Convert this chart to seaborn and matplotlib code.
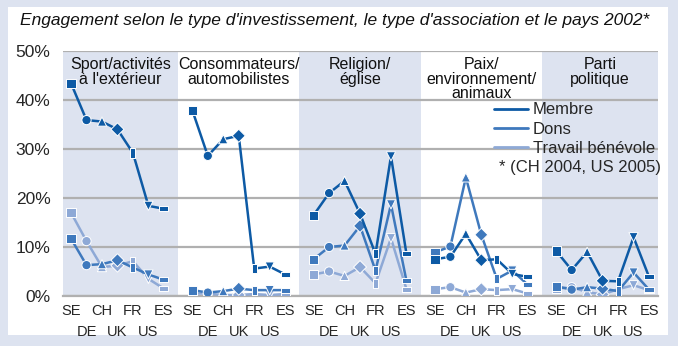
import matplotlib
matplotlib.use("Agg")
import matplotlib.pyplot as plt
import seaborn as sns
import pandas as pd
from matplotlib.lines import Line2D
from matplotlib.patches import Rectangle

countries = ['SE', 'DE', 'CH', 'UK', 'FR', 'US', 'ES']
groups = ["Sport/activités\nà l'extérieur", "Consommateurs/\nautomobilistes",
          "Religion/\néglise", "Paix/\nenvironnement/\nanimaux", "Parti\npolitique"]
series = ['Membre', 'Dons', 'Travail bénévole']

membre = [
    [43.4, 35.9, 35.6, 34.0, 29.2, 18.4, 17.8],
    [37.9, 28.6, 32.0, 32.7, 5.6, 6.0, 4.4],
    [16.5, 21.0, 23.5, 16.8, 8.6, 28.5, 8.6],
    [7.5, 8.0, 12.7, 7.3, 7.5, 4.5, 3.9],
    [9.2, 5.3, 9.0, 3.1, 3.0, 12.0, 3.9],
]
dons = [
    [11.7, 6.3, 6.5, 7.3, 5.8, 4.4, 3.3],
    [1.2, 0.7, 1.0, 1.5, 1.2, 1.2, 1.2],
    [7.5, 10.0, 10.3, 14.3, 5.2, 18.7, 3.1],
    [8.9, 10.1, 24.2, 12.5, 3.5, 5.2, 2.3],
    [2.0, 1.3, 1.8, 1.5, 1.0, 4.8, 1.3],
]
travail = [
    [17.0, 11.2, 5.9, 6.2, 7.1, 3.5, 1.5],
    [0.5, 0.5, 0.2, 0.2, 0.4, 0.2, 0.4],
    [4.4, 5.0, 4.1, 5.9, 2.6, 11.8, 1.4],
    [1.4, 1.8, 0.7, 1.4, 1.2, 1.4, 0.5],
    [1.5, 1.8, 0.8, 0.3, 1.4, 2.2, 1.2],
]
yticks = [0, 10, 20, 30, 40, 50]
legend_note = "* (CH 2004, US 2005)"
title = "Engagement selon le type d'investissement, le type d'association et le pays 2002*"

colors = {'Membre': '#0d5aa5', 'Dons': '#3f79bd', 'Travail bénévole': '#8ea9d6'}
shade = '#dde3f0'
grid_c = '#b0b0b0'

STRIDE = 7.84
rows = []
for s_name, vals in zip(series, [membre, dons, travail]):
    for g, gvals in enumerate(vals):
        for i, (c, v) in enumerate(zip(countries, gvals)):
            rows.append({'series': s_name, 'group': g, 'country': c,
                         'x': g * STRIDE + i, 'value': v})
df = pd.DataFrame(rows)

sns.set_theme(style='white')
plt.rcParams['font.family'] = ['Liberation Sans', 'DejaVu Sans']

fig = plt.figure(figsize=(6.78, 3.46), dpi=100, facecolor=shade)
fig.patches.append(Rectangle((8 / 678, 11 / 346), 660 / 678, 328 / 346,
                             transform=fig.transFigure, facecolor='white',
                             edgecolor='none', zorder=-1))
ax = fig.add_axes([63 / 678, 50 / 346, 595 / 678, 245 / 346])
ax.set_facecolor('white')

xmin, xmax = -0.52, 4 * STRIDE + 6 + 0.58
bounds = [xmin] + [g * STRIDE + 6.92 for g in range(4)] + [xmax]
for g in range(5):
    if g % 2 == 0:
        ax.axvspan(bounds[g], bounds[g + 1], color=shade, zorder=0, lw=0)

vrect = [(-0.55, -1), (0.55, -1), (0.55, 1), (-0.55, 1), (-0.55, -1)]
hrect = [(-1, -0.55), (1, -0.55), (1, 0.55), (-1, 0.55), (-1, -0.55)]
markers = {'SE': 's', 'DE': 'o', 'CH': '^', 'UK': 'D', 'FR': vrect, 'US': 'v', 'ES': hrect}

for z, s_name in enumerate(['Travail bénévole', 'Dons', 'Membre']):
    sub = df[df['series'] == s_name]
    sns.lineplot(data=sub, x='x', y='value', units='group', estimator=None,
                 color=colors[s_name], lw=1.8, ax=ax, zorder=3 + 2 * z, legend=False)
    sns.scatterplot(data=sub, x='x', y='value', style='country', markers=markers,
                    style_order=countries, color=colors[s_name], s=44,
                    edgecolor='white', linewidth=0.7, ax=ax, zorder=4 + 2 * z,
                    legend=False)

ax.set_xlim(xmin, xmax)
ax.set_ylim(0, 50)
ax.set_yticks(yticks)
ax.set_yticklabels([f"{t}%" for t in yticks], fontsize=12.5)
ax.yaxis.grid(True, color=grid_c, lw=1.6, zorder=1)
ax.set_axisbelow(True)

major_t, major_l, minor_t, minor_l = [], [], [], []
for g in range(5):
    for i, c in enumerate(countries):
        if i % 2 == 0:
            major_t.append(g * STRIDE + i)
            major_l.append(c)
        else:
            minor_t.append(g * STRIDE + i)
            minor_l.append(c)
ax.set_xticks(major_t)
ax.set_xticklabels(major_l, fontsize=10.5)
ax.set_xticks(minor_t, minor=True)
ax.set_xticklabels(minor_l, minor=True, fontsize=10.5)
ax.tick_params(axis='both', which='both', length=0)
ax.tick_params(axis='y', pad=9)
ax.tick_params(axis='x', which='major', pad=6)
ax.tick_params(axis='x', which='minor', pad=21)
ax.set_xlabel('')
ax.set_ylabel('')
for sp in ['left', 'right', 'top']:
    ax.spines[sp].set_visible(False)
ax.spines['bottom'].set_color(grid_c)
ax.spines['bottom'].set_linewidth(1.6)

for g in range(5):
    cx = (bounds[g] + bounds[g + 1]) / 2
    ax.text(cx, 48.7, groups[g], ha='center', va='top', fontsize=11.5,
            linespacing=0.95, color='#111111', zorder=10)

handles = [Line2D([0], [0], color=colors[s], lw=2) for s in series]
handles.append(Line2D([0], [0], color='none'))
leg = ax.legend(handles, series + [legend_note], loc='upper left',
                bbox_to_anchor=(0.725, 0.79), frameon=False, fontsize=12,
                handlelength=2.0, handletextpad=0.3, labelspacing=0.25,
                borderpad=0, borderaxespad=0)
leg.get_texts()[3].set_position((-34, 0))
leg.set_zorder(12)

fig.text(0.494, 1 - 20 / 346, title, ha='center', va='center', fontsize=12.5,
         style='italic', color='#111111')

fig.savefig('out.png', dpi=100, facecolor=fig.get_facecolor())
